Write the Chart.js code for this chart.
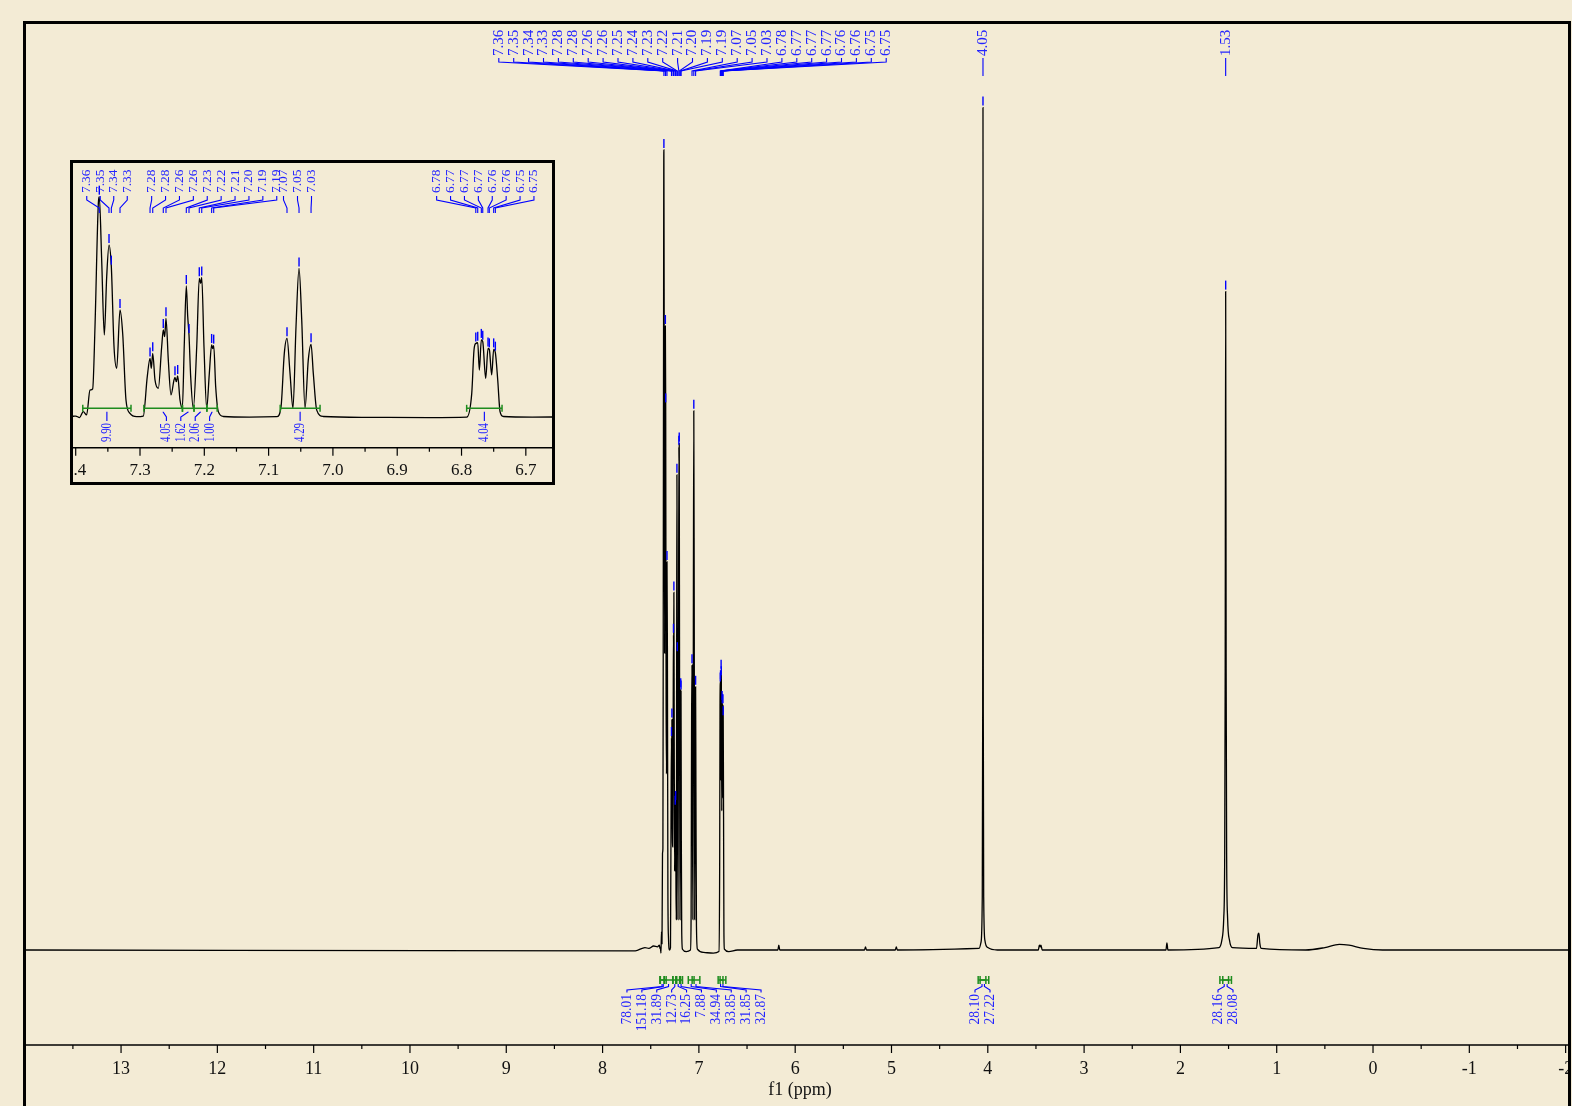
<!DOCTYPE html>
<html>
<head>
<meta charset="utf-8">
<script src="https://cdn.jsdelivr.net/npm/chart.js@4.4.0/dist/chart.umd.min.js"></script>
<style>
  html, body { margin: 0; padding: 0; background: #f3ebd5; overflow: hidden; }
  #main { position: absolute; left: 0; top: 0; }
  #insetBox { position: absolute; left: 70px; top: 160px; width: 479px; height: 319px;
              border: 3px solid #000; background: #f3ebd5; }
  #inset { position: absolute; left: 0; top: 0; }
</style>
</head>
<body>
<canvas id="main" width="1572" height="1106"></canvas>
<div id="insetBox"><canvas id="inset" width="479" height="319"></canvas></div>
<script>
// spectrum (ppm, intensity)
const shift = [
  14.1, 7.66, 7.56, 7.52, 7.47, 7.43, 7.41, 7.4037, 7.4, 7.394, 7.3882, 7.383, 7.3778, 7.3736, 7.37,
  7.3648, 7.3633, 7.3596, 7.3555, 7.3518, 7.3482, 7.3446, 7.3404, 7.3362, 7.3311, 7.3269, 7.3218,
  7.3156, 7.3052, 7.2949, 7.2887, 7.2844, 7.2824, 7.2802, 7.2767, 7.2715, 7.2663, 7.2638, 7.2616,
  7.2596, 7.256, 7.2518, 7.2471, 7.2456, 7.2435, 7.2414, 7.2378, 7.2342, 7.2311, 7.228, 7.2258,
  7.2238, 7.2212, 7.2171, 7.2118, 7.2078, 7.2056, 7.204, 7.2005, 7.1963, 7.1922, 7.1886, 7.187,
  7.1854, 7.1823, 7.1782, 7.1705, 7.13, 7.0874, 7.0807, 7.0756, 7.0714, 7.0667, 7.0621, 7.0574,
  7.0527, 7.0485, 7.0434, 7.0383, 7.034, 7.0305, 7.0252, 7.015, 6.95, 6.85, 6.7919, 6.7841, 6.7806,
  6.7778, 6.7748, 6.7723, 6.7692, 6.767, 6.7624, 6.7588, 6.7568, 6.7531, 6.75, 6.7474, 6.7437,
  6.7401, 6.735, 6.69, 6.6, 6.18, 6.17, 6.16, 5.28, 5.27, 5.26, 4.96, 4.95, 4.94,
  4.09, 4.07, 4.058, 4.053, 4.05, 4.047, 4.042, 4.03, 4.0, 3.9,
  3.475, 3.465, 3.455, 3.448, 3.435, 2.15, 2.14, 2.13,
  1.6, 1.57, 1.55, 1.54, 1.535, 1.53, 1.525, 1.52, 1.51, 1.49, 1.46,
  1.21, 1.195, 1.185, 1.175, 1.16, 0.7, 0.5, 0.35, 0.25, 0.1, -0.1, -2.1
];
const intensity = [
  0, -0.1, 0.3, 0.2, 0.5, 0.4, 0.6, 0.2, 0.3, -0.4, 2.3, 0.8, 12.1, 12.7, 40.9,
  97, 100, 71.2, 37.1, 63.6, 78, 68.2, 31.8, 22, 48.5, 37.7, 7.6,
  1.5, 0, 0.3, 18.2, 26.5, 22, 28.8, 16.7, 12.9, 31.8, 39.4, 36.4,
  44.7, 25.8, 9.9, 16.7, 17.9, 15.9, 18.5, 7.6, 3.8, 33.3, 59.4, 45.5,
  37.1, 18.2, 3.8, 31.8, 62.9, 60.6, 63.3, 31.8, 3.8, 19.7, 32.6, 31,
  32.3, 13.6, 2.3, 0.1, -0.2, 0, 4.5, 28.8, 35.6, 19.7, 3.8, 40.9,
  67.4, 44, 3.8, 25.8, 32.9, 19.7, 3, 0.1, -0.3, -0.4, -0.2, 10.6, 30.3,
  33.3, 33.6, 21.2, 34.9, 34.1, 17.4, 31, 30.6, 19, 30.6, 29.1, 16.7,
  2.3, 0.1, -0.2, 0, 0, 0.6, 0, 0, 0.4, 0, 0, 0.4, 0,
  0.2, 1, 6, 30, 105.3, 30, 6, 1.2, 0.3, 0,
  0, 0.6, 0.4, 0.6, 0, 0, 0.9, 0,
  0.3, 1.2, 4, 12, 35, 82.3, 35, 12, 4, 1.2, 0.3,
  0.2, 1.9, 2.1, 0.8, 0.2, 0, 0.3, 0.7, 0.6, 0.2, 0, 0
];

// picked peaks
const peakShift = [
  7.3633, 7.3482, 7.3446, 7.3311, 7.2844, 7.2802, 7.2638, 7.2596, 7.2456, 7.2414, 7.228, 7.2238,
  7.2078, 7.204, 7.1886, 7.1854, 7.0714, 7.0527, 7.034, 6.7778, 6.7748, 6.7692, 6.767, 6.7588,
  6.7568, 6.75, 6.7474, 4.05, 1.53
];
const peakLabels = [
  '7.36', '7.35', '7.34', '7.33', '7.28', '7.28', '7.26', '7.26', '7.25', '7.24', '7.23', '7.22',
  '7.21', '7.20', '7.19', '7.19', '7.07', '7.05', '7.03', '6.78', '6.77', '6.77', '6.77', '6.76',
  '6.76', '6.75', '6.75', '4.05', '1.53'
];

// integrals, full spectrum
const intFrom  = [7.405, 7.40, 7.36, 7.27, 7.24, 7.20, 7.11, 7.07, 6.80, 6.78, 4.10, 4.08, 1.59, 1.56];
const intTo    = [7.36, 7.34, 7.27, 7.23, 7.19, 7.17, 7.05, 6.99, 6.75, 6.72, 4.02, 3.99, 1.50, 1.47];
const intValue = ['78.01', '151.18', '31.89', '12.73', '16.25', '7.88', '34.94', '33.85', '31.85',
                  '32.87', '28.10', '27.22', '28.16', '28.08'];

// integrals, inset
const insetIntFrom  = [7.389, 7.294, 7.234, 7.216, 7.196, 7.082, 6.792];
const insetIntTo    = [7.314, 7.234, 7.216, 7.196, 7.180, 7.020, 6.737];
const insetIntValue = ['9.90', '4.05', '1.62', '2.06', '1.00', '4.29', '4.04'];

// axis ticks
const mainTicks = [13, 12, 11, 10, 9, 8, 7, 6, 5, 4, 3, 2, 1, 0, -1, -2];
const insetTicks = [7.4, 7.3, 7.2, 7.1, 7.0, 6.9, 6.8, 6.7];

// ---------- drawing ----------
const SERIF = '"Liberation Serif", "Times New Roman", serif';
const BLUE = '#0000ff';
const BLUE_TEXT = '#2424ff';
const GREEN = '#1e8c1e';
const INSET_LEFT = 73, INSET_TOP = 163;

const spectrum = shift.map((s, i) => ({ x: s, y: intensity[i] }));

function vText(ctx, s, x, y, size, align, squeeze) {
  ctx.save();
  ctx.translate(x, y);
  ctx.rotate(-Math.PI / 2);
  ctx.scale(squeeze || 1, 1);
  ctx.font = size + 'px ' + SERIF;
  ctx.textAlign = align;
  ctx.textBaseline = 'middle';
  ctx.fillText(s, 0, 0);
  ctx.restore();
}

function spread(n, center, gap) {
  return Array.from({ length: n }, (_, i) => center + (i - (n - 1) / 2) * gap);
}

function polyline(ctx, pts) {
  ctx.beginPath();
  ctx.moveTo(pts[0][0], pts[0][1]);
  for (let i = 1; i < pts.length; i++) ctx.lineTo(pts[i][0], pts[i][1]);
  ctx.stroke();
}

function drawPeakLabels(chart, groups, geo, size, offX) {
  const { ctx, scales: { x } } = chart;
  ctx.save();
  ctx.strokeStyle = BLUE;
  ctx.lineWidth = 1.1;
  ctx.fillStyle = BLUE_TEXT;
  groups.forEach(g => {
    const pxs = g.idx.map(i => x.getPixelForValue(peakShift[i]));
    const lxs = g.center == null ? pxs : spread(g.idx.length, g.center - offX, g.gap);
    g.idx.forEach((i, k) => {
      const px = pxs[k], lx = lxs[k];
      polyline(ctx, [[lx, geo.a], [lx, geo.b], [px, geo.c], [px, geo.d]]);
      vText(ctx, peakLabels[i], lx, geo.text, size, 'left');
    });
  });
  ctx.restore();
}

function drawMarkers(chart, list) {
  const { ctx, scales: { x, y } } = chart;
  ctx.save();
  ctx.strokeStyle = BLUE;
  ctx.lineWidth = 1.4;
  list.forEach(i => {
    const j = shift.indexOf(peakShift[i]);
    const px = x.getPixelForValue(peakShift[i]);
    const py = y.getPixelForValue(intensity[j]);
    polyline(ctx, [[px, py - 11], [px, py - 2]]);
  });
  ctx.restore();
}

function drawIntegrals(chart, from, to, values, groups, geo, size, squeeze, offX) {
  const { ctx, scales: { x } } = chart;
  ctx.save();
  groups.forEach(g => {
    const cxs = g.idx.map(i => (x.getPixelForValue(from[i]) + x.getPixelForValue(to[i])) / 2);
    const lxs = g.center == null ? cxs : spread(g.idx.length, g.center - offX, g.gap);
    g.idx.forEach((i, k) => {
      const x1 = x.getPixelForValue(from[i]), x2 = x.getPixelForValue(to[i]);
      ctx.strokeStyle = GREEN;
      ctx.lineWidth = 1.5;
      polyline(ctx, [[x1, geo.bar], [x2, geo.bar]]);
      polyline(ctx, [[x1, geo.bar - geo.cap], [x1, geo.bar + geo.cap]]);
      polyline(ctx, [[x2, geo.bar - geo.cap], [x2, geo.bar + geo.cap]]);
      ctx.strokeStyle = BLUE;
      ctx.lineWidth = 1.1;
      const cx = cxs[k], lx = lxs[k];
      polyline(ctx, [[cx, geo.bar + geo.cap], [cx, geo.a], [lx, geo.b], [lx, geo.c]]);
      ctx.fillStyle = BLUE_TEXT;
      vText(ctx, values[i], lx, geo.text, size, 'right', squeeze);
    });
  });
  ctx.restore();
}

function drawAxis(chart, ticks, step, axisY, labelY, fontSize, clipL, clipR) {
  const { ctx, chartArea: a, scales: { x } } = chart;
  ctx.save();
  ctx.strokeStyle = '#000';
  ctx.lineWidth = 1.5;
  polyline(ctx, [[a.left, axisY], [a.right, axisY]]);
  ctx.lineWidth = 1.2;
  const hi = Math.max(...ticks) + step, lo = Math.min(...ticks) - step;
  const n = Math.round((hi - lo) / (step / 2));
  for (let k = 0; k <= n; k++) {
    const v = lo + k * step / 2;
    const px = x.getPixelForValue(v);
    if (px < a.left - 0.5 || px > a.right + 0.5) continue;
    const major = k % 2 === 0;
    polyline(ctx, [[px, axisY], [px, axisY + (major ? 8 : 4)]]);
  }
  ctx.beginPath();
  ctx.rect(clipL, axisY + 1, clipR - clipL, 60);
  ctx.clip();
  ctx.fillStyle = '#111';
  ctx.font = fontSize + 'px ' + SERIF;
  ctx.textAlign = 'center';
  ctx.textBaseline = 'middle';
  ticks.forEach(t => {
    const label = step < 1 ? t.toFixed(1) : String(t);
    ctx.fillText(label, x.getPixelForValue(t), labelY);
  });
  ctx.restore();
}

const mainDecor = {
  id: 'mainDecor',
  afterDraw(chart) {
    const ctx = chart.ctx;
    // outer frame
    ctx.save();
    ctx.strokeStyle = '#000';
    ctx.lineWidth = 3;
    polyline(ctx, [[24.5, 1110], [24.5, 22.5], [1569.5, 22.5], [1569.5, 1110]]);
    ctx.restore();

    drawAxis(chart, mainTicks, 1, 1045, 1069, 18, 26, 1568);
    ctx.save();
    ctx.fillStyle = '#111';
    ctx.font = '18px ' + SERIF;
    ctx.textAlign = 'center';
    ctx.textBaseline = 'middle';
    ctx.fillText('f1 (ppm)', 800, 1090);
    ctx.restore();

    const all = peakShift.map((_, i) => i);
    drawMarkers(chart, all);
    drawPeakLabels(chart, [
      { idx: all.slice(0, 27), center: 692.5, gap: 14.9 },
      { idx: [27], center: null },
      { idx: [28], center: null }
    ], { text: 56, a: 58, b: 62, c: 71, d: 76 }, 15, 0);

    drawIntegrals(chart, intFrom, intTo, intValue, [
      { idx: [0, 1, 2, 3, 4, 5, 6, 7, 8, 9], center: 694, gap: 14.9 },
      { idx: [10, 11], center: 982.5, gap: 15 },
      { idx: [12, 13], center: 1225.5, gap: 15 }
    ], { bar: 980, cap: 4, a: 986.5, b: 990, c: 992.5, text: 994 }, 15, 0.9, 0);
  }
};

const insetDecor = {
  id: 'insetDecor',
  afterDraw(chart) {
    drawAxis(chart, insetTicks, 0.1, 447.7 - INSET_TOP, 471 - INSET_TOP, 17, 0, 479);
    const aromatic = peakShift.map((_, i) => i).slice(0, 27);
    drawMarkers(chart, aromatic);
    drawPeakLabels(chart, [
      { idx: [0, 1, 2, 3], center: 107, gap: 13.5 },
      { idx: [4, 5, 6, 7, 10, 11, 12, 13, 14, 15], center: 214.2, gap: 13.9 },
      { idx: [16, 17, 18], center: 297.5, gap: 14 },
      { idx: [19, 20, 21, 22, 23, 24, 25, 26], center: 485.3, gap: 13.9 }
    ], { text: 193 - INSET_TOP, a: 196 - INSET_TOP, b: 200 - INSET_TOP, c: 208 - INSET_TOP, d: 213 - INSET_TOP },
      13.5, INSET_LEFT);

    drawIntegrals(chart, insetIntFrom, insetIntTo, insetIntValue, [
      { idx: [0], center: null },
      { idx: [1, 2, 3, 4], center: 188, gap: 14.4 },
      { idx: [5], center: null },
      { idx: [6], center: null }
    ], { bar: 408.3 - INSET_TOP, cap: 3.5, a: 412 - INSET_TOP, b: 417 - INSET_TOP, c: 421 - INSET_TOP,
         text: 423 - INSET_TOP }, 15, 0.72, INSET_LEFT);
  }
};

function spectrumChart(id, padding, xMin, xMax, yMin, yMax, plugin) {
  return new Chart(document.getElementById(id), {
    type: 'line',
    data: {
      datasets: [{
        data: spectrum,
        borderColor: '#000',
        borderWidth: 1.3,
        pointRadius: 0,
        fill: false,
        cubicInterpolationMode: 'monotone'
      }]
    },
    options: {
      responsive: false,
      animation: false,
      devicePixelRatio: 1,
      layout: { padding },
      scales: {
        x: { type: 'linear', reverse: true, min: xMin, max: xMax, display: false },
        y: { type: 'linear', min: yMin, max: yMax, display: false }
      },
      plugins: { legend: { display: false }, tooltip: { enabled: false } }
    },
    plugins: [plugin]
  });
}

// main: 0 ppm at x=1373, 96.3 px/ppm; intensity 0 at y=950, 8 px/unit
spectrumChart('main', { left: 26, right: 3, top: 24, bottom: 61 },
  -2.035, 13.987, -11.875, 115.75, mainDecor);
// inset: 643 px/ppm; intensity 0 at y=416.7, 2.2 px/unit
spectrumChart('inset', { left: 0, right: 0, top: 0, bottom: 34.3 },
  6.6593, 7.4042, -14.09, 115.3, insetDecor);
</script>
</body>
</html>
